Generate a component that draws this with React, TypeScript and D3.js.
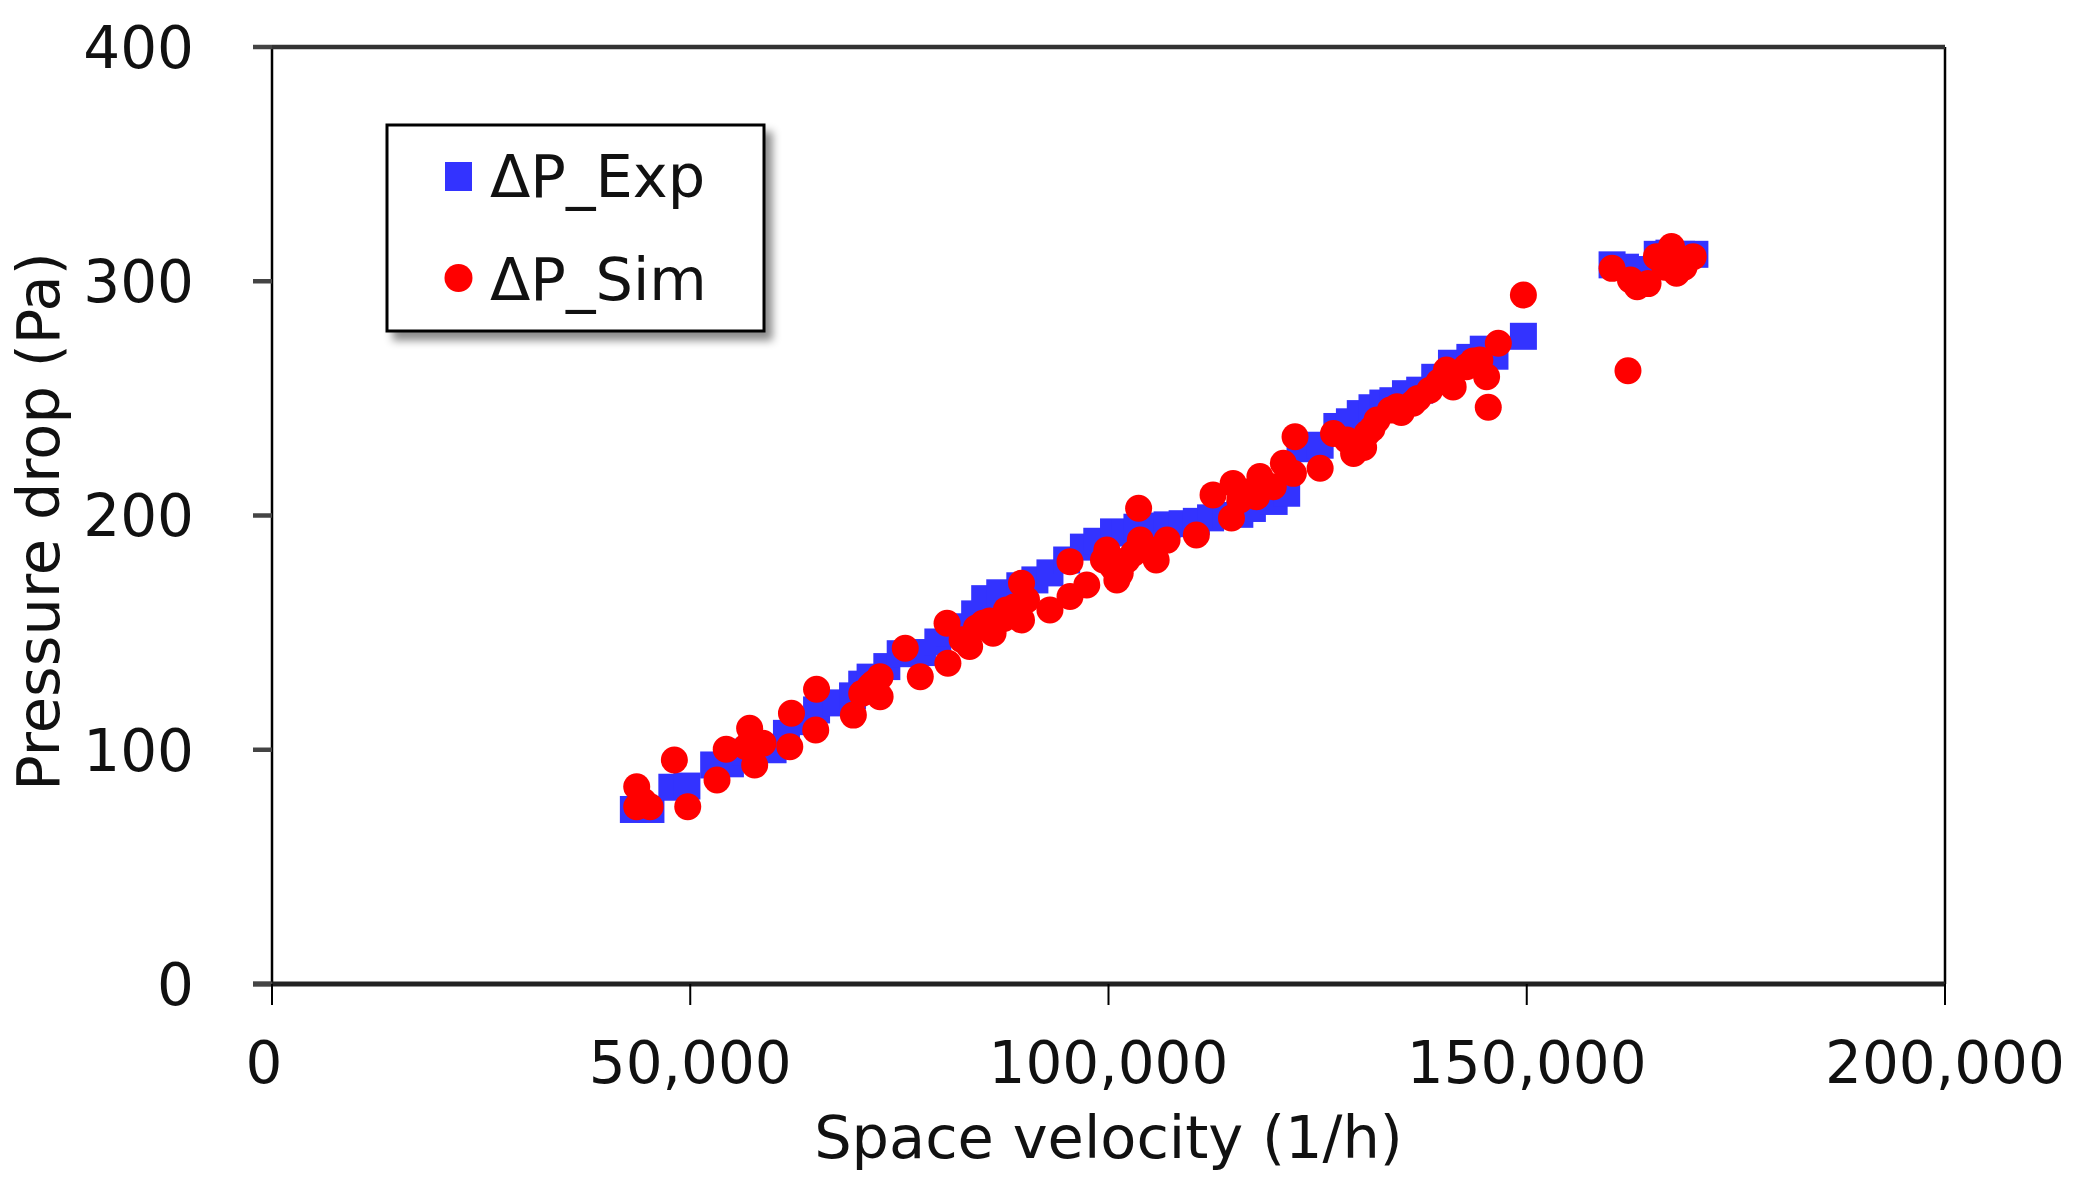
import React from "react";
import * as d3 from "d3";

// measured (Exp) series: space velocity (1/h) and pressure drop (Pa)
const expVelocity = [
  43200, 44400, 45300, 47800, 49600, 52800, 54800, 56600, 58300, 59900,
  61500, 63300, 65100, 67400, 69400, 70500, 71500, 73500, 75100, 77800,
  79600, 81100, 82300, 84000, 85200, 87000, 89400, 91200, 93000, 95000,
  97000, 98600, 100600, 102000, 103400, 105200, 107000, 108800, 110500, 112200,
  114000, 115700, 117200, 118500, 119800, 121300, 122900, 124200, 125300, 127300,
  128800, 130100, 131500, 132800, 134000, 135500, 137200, 139000, 141000, 143200,
  144800, 146200, 149600, 160200, 161800, 163500, 165600, 167000, 168500, 170100,
];
const expPressure = [
  74.5, 75, 74.5, 84, 84.5, 93.5, 94, 99, 101, 100,
  107, 112, 117, 120, 123, 128, 131, 135.5, 141, 141.5,
  146, 150, 152.5, 158, 164.5, 167, 170, 172.5, 175.5, 181,
  186.5, 189, 193, 192.5, 195, 195.5, 196, 196.5, 197.5, 199,
  200, 200.5, 203, 210, 206, 209.5, 228.5, 229, 230, 238,
  240, 243.5, 246, 248, 249, 252, 253.5, 259, 265, 267.5,
  271, 268, 276.5, 307, 306, 305, 311.5, 312, 311.5, 311.5,
];

// simulated (Sim) series
const simVelocity = [
  43600, 43600, 45200, 44400, 48100, 49700, 53200, 54300, 56700, 57100,
  57700, 58700, 61900, 62100, 65100, 65000, 69500, 70500, 71500, 71900,
  72700, 72700, 75700, 77500, 80700, 80800, 82500, 83400, 84200, 85000,
  85800, 86200, 87500, 87800, 88800, 89600, 89600, 90200, 93000, 95400,
  95400, 97400, 99400, 99800, 100500, 101000, 101400, 102200, 103000, 103600,
  103800, 104500, 105700, 107000, 110500, 112500, 114700, 114900, 115700, 116500,
  117700, 118100, 119700, 120900, 122100, 122300, 125300, 126900, 128500, 129300,
  130500, 130900, 131500, 132100, 133700, 134500, 135000, 136400, 137000, 138400,
  139500, 140400, 141200, 142800, 143600, 144400, 145200, 145400, 146600, 149600,
  160200, 162100, 162400, 163200, 164500, 165500, 166500, 167300, 167900, 168800,
  169900,
];
const simPressure = [
  84.2, 75.7, 75.7, 78, 95.6, 75.7, 87.1, 100.2, 101.3, 109.2,
  93.5, 102.8, 101.3, 115.6, 125.8, 108.4, 114.8, 124, 127, 128.4,
  122.6, 131.2, 143.3, 131.2, 154, 136.9, 147, 144.1, 152, 154,
  155, 149.7, 156, 159.7, 161, 171.1, 155.4, 164, 159.7, 180.3,
  165.4, 170.3, 181, 185.3, 178, 172.5, 175.3, 181, 183.9, 203.1,
  189.5, 186, 181, 189.5, 191.7, 208.8, 198.9, 213.7, 206.6, 210,
  208, 216.6, 212.3, 222.3, 218, 233.6, 220.2, 235, 232.2, 226.5,
  229, 235, 237, 240.8, 245, 246.4, 244, 247.9, 250, 253.5,
  257, 262.1, 254.9, 263.5, 266, 266.4, 259.2, 246.2, 273.5, 294.1,
  305.5, 261.8, 300.5, 297.7, 299, 310.5, 306, 314.8, 303.4, 306,
  310.5,
];

const xTicks = [0, 50000, 100000, 150000, 200000];
const yTicks = [0, 100, 200, 300, 400];
const seriesNames = ["\u0394P_Exp", "\u0394P_Sim"];

const W = 2088;
const H = 1180;
const plot = { left: 272, right: 1945, top: 47, bottom: 984 };
const font = "'DejaVu Sans', Verdana, sans-serif";
const blue = "#3333ff";
const red = "#ff0000";
const markerSize = 27;

export default function App() {
  const x = d3.scaleLinear().domain([0, 200000]).range([plot.left, plot.right]);
  const y = d3.scaleLinear().domain([0, 400]).range([plot.bottom, plot.top]);
  const fmt = d3.format(",");

  const exp = expVelocity.map((v, i) => ({ v, p: expPressure[i] }));
  const sim = simVelocity.map((v, i) => ({ v, p: simPressure[i] }));

  return (
    <svg
      width={W}
      height={H}
      viewBox={`0 0 ${W} ${H}`}
      style={{ position: "absolute", left: 0, top: 0, background: "#fff" }}
      fontFamily={font}
    >
      <defs>
        <filter id="shadow" x="-10%" y="-10%" width="130%" height="140%">
          <feDropShadow dx="7" dy="8" stdDeviation="4" floodColor="#000" floodOpacity="0.45" />
        </filter>
      </defs>
      <rect width={W} height={H} fill="#fff" />

      {/* markers */}
      <g>
        {exp.map((d, i) => (
          <rect
            key={i}
            x={x(d.v) - markerSize / 2}
            y={y(d.p) - markerSize / 2}
            width={markerSize}
            height={markerSize}
            fill={blue}
          />
        ))}
      </g>
      <g>
        {sim.map((d, i) => (
          <circle key={i} cx={x(d.v)} cy={y(d.p)} r={markerSize / 2} fill={red} />
        ))}
      </g>

      {/* frame */}
      <line x1={plot.left} x2={plot.left} y1={plot.top} y2={plot.bottom} stroke="#000" strokeWidth={2.5} />
      <line x1={plot.right} x2={plot.right} y1={plot.top} y2={plot.bottom} stroke="#000" strokeWidth={2.5} />
      <line x1={plot.left} x2={plot.right} y1={plot.top} y2={plot.top} stroke="#333" strokeWidth={4.5} />
      <line x1={plot.left - 19} x2={plot.right} y1={plot.bottom} y2={plot.bottom} stroke="#222" strokeWidth={5} />

      {/* y axis */}
      {yTicks.map((t) => (
        <g key={t}>
          <line x1={plot.left - 19} x2={plot.left} y1={y(t)} y2={y(t)} stroke="#444" strokeWidth={4.5} />
          <text x={194} y={y(t)} dy="0.36em" textAnchor="end" fontSize={58} fill="#111">
            {t}
          </text>
        </g>
      ))}

      {/* x axis */}
      {xTicks.map((t) => (
        <g key={t}>
          <line x1={x(t)} x2={x(t)} y1={plot.bottom} y2={plot.bottom + 21} stroke="#000" strokeWidth={2} />
          <text x={x(t) - (t === 0 ? 8 : 0)} y={1083} textAnchor="middle" fontSize={58} fill="#111">
            {fmt(t)}
          </text>
        </g>
      ))}

      <text x={(plot.left + plot.right) / 2} y={1158} textAnchor="middle" fontSize={59} fill="#111">
        Space velocity (1/h)
      </text>
      <text
        transform={`translate(59, ${(plot.top + plot.bottom) / 2 + 6}) rotate(-90)`}
        textAnchor="middle"
        fontSize={59}
        fill="#111"
      >
        Pressure drop (Pa)
      </text>

      {/* legend */}
      <g>
        <rect x={387} y={125} width={377} height={206} fill="#fff" stroke="#000" strokeWidth={3} filter="url(#shadow)" />
        <rect x={445} y={162} width={27} height={29} fill={blue} />
        <circle cx={458.5} cy={278} r={14} fill={red} />
        <text x={490} y={197} fontSize={59} fill="#111">
          {seriesNames[0]}
        </text>
        <text x={490} y={300} fontSize={59} fill="#111">
          {seriesNames[1]}
        </text>
      </g>
    </svg>
  );
}
